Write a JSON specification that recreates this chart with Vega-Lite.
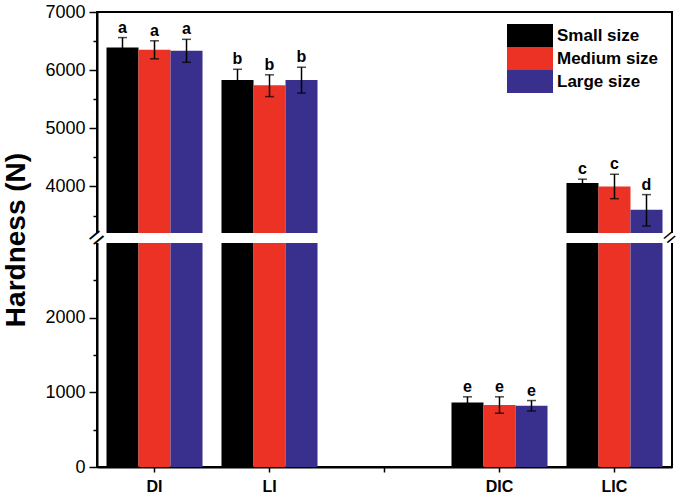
{
  "$schema": "https://vega.github.io/schema/vega-lite/v6.json",
  "autosize": {"type": "none"},
  "padding": {"left": 97, "top": 12, "right": 8, "bottom": 32},
  "width": 575,
  "height": 455,
  "background": "white",
  "config": {
    "font": "Liberation Sans",
    "view": {"stroke": "black", "strokeWidth": 2}
  },
  "data": {
    "values": [
      {"group": "DI", "size": "Small size", "mean": 6390, "lo": 6220, "hi": 6560, "letter": "a"},
      {"group": "DI", "size": "Medium size", "mean": 6350, "lo": 6195, "hi": 6505, "letter": "a"},
      {"group": "DI", "size": "Large size", "mean": 6335, "lo": 6135, "hi": 6530, "letter": "a"},
      {"group": "LI", "size": "Small size", "mean": 5830, "lo": 5645, "hi": 6015, "letter": "b"},
      {"group": "LI", "size": "Medium size", "mean": 5740, "lo": 5545, "hi": 5920, "letter": "b"},
      {"group": "LI", "size": "Large size", "mean": 5830, "lo": 5605, "hi": 6050, "letter": "b"},
      {"group": "DIC", "size": "Small size", "mean": 865, "lo": 790, "hi": 940, "letter": "e"},
      {"group": "DIC", "size": "Medium size", "mean": 830, "lo": 720, "hi": 940, "letter": "e"},
      {"group": "DIC", "size": "Large size", "mean": 820, "lo": 750, "hi": 890, "letter": "e"},
      {"group": "LIC", "size": "Small size", "mean": 4060, "lo": 3995, "hi": 4125, "letter": "c"},
      {"group": "LIC", "size": "Medium size", "mean": 4000, "lo": 3790, "hi": 4210, "letter": "c"},
      {"group": "LIC", "size": "Large size", "mean": 3600, "lo": 3320, "hi": 3860, "letter": "d"}
    ]
  },
  "encoding": {
    "x": {
      "field": "group", "type": "nominal",
      "scale": {"domain": ["DI", "LI", "gap", "DIC", "LIC"], "paddingInner": 0.165, "paddingOuter": 0.0826},
      "axis": {
        "title": null, "labelAngle": 0, "labelFontSize": 16, "labelFontWeight": "bold", "labelColor": "black",
        "labelExpr": "datum.value === 'gap' ? '' : datum.label",
        "tickSize": 5, "tickWidth": 1.5, "tickColor": "black", "domainColor": "black", "domainWidth": 2, "labelPadding": 6
      }
    },
    "xOffset": {"field": "size", "type": "nominal", "scale": {"domain": ["Small size", "Medium size", "Large size"], "paddingInner": 0, "paddingOuter": 0}}
  },
  "layer": [
    {
      "mark": {"type": "bar"},
      "encoding": {
        "y": {
          "field": "mean", "type": "quantitative", "stack": null,
          "scale": {"domain": [0, 3000, 3200, 7000], "range": [455, 231, 221, 0], "nice": false, "zero": false},
          "axis": {
            "title": "Hardness (N)", "titleFontSize": 28, "titleFontWeight": "bold", "titleColor": "black", "titlePadding": 14,
            "values": [0, 500, 1000, 1500, 2000, 2500, 3500, 4000, 4500, 5000, 5500, 6000, 6500, 7000],
            "tickCount": 40,
            "labelExpr": "datum.value % 1000 === 0 ? format(datum.value, 'd') : ''",
            "labelFontSize": 18, "labelColor": "black", "labelPadding": 4, "labelOverlap": false,
            "tickSize": {"condition": {"test": "datum.value % 1000 === 0", "value": 8}, "value": 4},
            "tickWidth": 1.5, "tickColor": "black", "domainColor": "black", "domainWidth": 2, "grid": false
          }
        },
        "color": {
          "field": "size", "type": "nominal",
          "scale": {"domain": ["Small size", "Medium size", "Large size"], "range": ["#000000", "#EB3224", "#38308C"]},
          "legend": {
            "title": null, "orient": "none", "legendX": 410, "legendY": 12,
            "symbolType": "M-1,-0.5H1V0.5H-1Z", "symbolSize": 2116, "symbolStrokeWidth": 0, "symbolOpacity": 1,
            "labelFontSize": 17, "labelFontWeight": "bold", "labelColor": "black", "labelOffset": 4,
            "clipHeight": 23, "rowPadding": 0
          }
        }
      }
    },
    {
      "mark": {"type": "rule", "color": "black", "strokeWidth": 1.5},
      "encoding": {"y": {"field": "lo", "type": "quantitative"}, "y2": {"field": "hi"}}
    },
    {
      "mark": {"type": "tick", "color": "black", "thickness": 1.5, "size": 9},
      "encoding": {"y": {"field": "lo", "type": "quantitative"}}
    },
    {
      "mark": {"type": "tick", "color": "black", "thickness": 1.5, "size": 9},
      "encoding": {"y": {"field": "hi", "type": "quantitative"}}
    },
    {
      "mark": {"type": "text", "color": "black", "fontSize": 16, "fontWeight": "bold", "baseline": "alphabetic", "dy": -5},
      "encoding": {"y": {"field": "hi", "type": "quantitative"}, "text": {"field": "letter"}}
    },
    {
      "data": {"values": [{"from": 3000, "to": 3200}]},
      "mark": {"type": "rect", "color": "white", "opacity": 1},
      "encoding": {
        "x": {"value": -4}, "x2": {"value": {"expr": "width + 4"}},
        "xOffset": null,
        "y": {"field": "from", "type": "quantitative"}, "y2": {"field": "to"}
      }
    },
    {
      "data": {"values": [{"at": 3100}]},
      "mark": {"type": "text", "text": "=", "fontSize": 26, "color": "black", "angle": -40, "baseline": "middle", "align": "center"},
      "encoding": {
        "x": {"value": 0},
        "xOffset": null,
        "y": {"field": "at", "type": "quantitative"}
      }
    },
    {
      "data": {"values": [{"at": 3100}]},
      "mark": {"type": "text", "text": "=", "fontSize": 21, "color": "black", "angle": -40, "baseline": "middle", "align": "center"},
      "encoding": {
        "x": {"value": {"expr": "width - 2"}},
        "xOffset": null,
        "y": {"field": "at", "type": "quantitative"}
      }
    }
  ]
}
